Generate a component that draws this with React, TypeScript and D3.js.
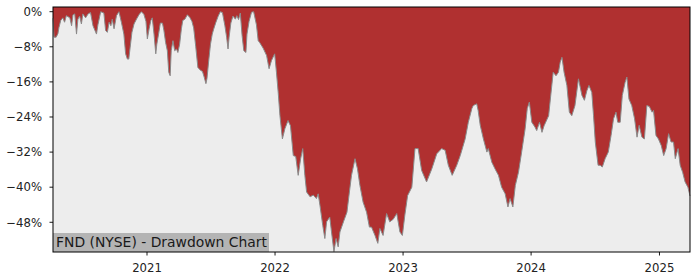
import React from "react";
import * as d3 from "d3";

const dates: string[] = [
  "2020-04-08","2020-04-11","2020-04-17","2020-04-22","2020-04-25","2020-04-30","2020-05-06","2020-05-11","2020-05-16","2020-05-26",
  "2020-05-31","2020-06-04","2020-06-09","2020-06-14","2020-06-18","2020-06-23","2020-06-28","2020-07-02","2020-07-10","2020-07-17",
  "2020-07-24","2020-07-31","2020-08-10","2020-08-14","2020-08-22","2020-08-31","2020-09-05","2020-09-10","2020-09-15","2020-09-20",
  "2020-09-24","2020-09-29","2020-10-06","2020-10-13","2020-10-20","2020-10-27","2020-11-01","2020-11-06","2020-11-10","2020-11-14",
  "2020-11-19","2020-11-25","2020-12-02","2020-12-09","2020-12-16","2020-12-23","2020-12-29","2021-01-02","2021-01-07","2021-01-12",
  "2021-01-16","2021-01-21","2021-01-26","2021-01-29","2021-02-03","2021-02-08","2021-02-14","2021-02-18","2021-02-23","2021-02-28",
  "2021-03-04","2021-03-08","2021-03-11","2021-03-16","2021-03-21","2021-03-26","2021-03-30","2021-04-04","2021-04-09","2021-04-13",
  "2021-04-19","2021-04-26","2021-05-03","2021-05-09","2021-05-14","2021-05-20","2021-05-26","2021-06-03","2021-06-08","2021-06-13",
  "2021-06-18","2021-06-21","2021-06-26","2021-07-01","2021-07-06","2021-07-10","2021-07-16","2021-07-23","2021-07-29","2021-08-04",
  "2021-08-11","2021-08-16","2021-08-20","2021-08-23","2021-08-28","2021-09-03","2021-09-10","2021-09-14","2021-09-19","2021-09-24",
  "2021-09-29","2021-10-04","2021-10-10","2021-10-13","2021-10-19","2021-10-26","2021-11-01","2021-11-09","2021-11-14","2021-11-18",
  "2021-11-28","2021-12-08","2021-12-15","2021-12-22","2021-12-31","2022-01-05","2022-01-10","2022-01-15","2022-01-22","2022-01-29",
  "2022-02-07","2022-02-14","2022-02-22","2022-03-01","2022-03-08","2022-03-15","2022-03-21","2022-03-27","2022-04-01","2022-04-11",
  "2022-04-20","2022-04-29","2022-05-04","2022-05-09","2022-05-17","2022-05-23","2022-05-28","2022-06-06","2022-06-11","2022-06-18",
  "2022-06-24","2022-06-30","2022-07-05","2022-07-15","2022-07-25","2022-08-01","2022-08-07","2022-08-17","2022-08-24","2022-08-31",
  "2022-09-09","2022-09-19","2022-09-27","2022-10-03","2022-10-13","2022-10-21","2022-10-27","2022-11-05","2022-11-15","2022-11-24",
  "2022-12-04","2022-12-14","2022-12-23","2022-12-30","2023-01-06","2023-01-14","2023-01-26","2023-02-04","2023-02-13","2023-02-23",
  "2023-03-09","2023-03-24","2023-04-07","2023-04-21","2023-05-01","2023-05-10","2023-05-21","2023-06-03","2023-06-13","2023-06-27",
  "2023-07-06","2023-07-16","2023-07-20","2023-07-30","2023-08-03","2023-08-09","2023-08-18","2023-08-28","2023-09-01","2023-09-11",
  "2023-09-20","2023-09-30","2023-10-09","2023-10-19","2023-10-27","2023-11-02","2023-11-10","2023-11-17","2023-11-26","2023-12-05",
  "2023-12-15","2023-12-21","2023-12-27","2024-01-03","2024-01-12","2024-01-17","2024-01-25","2024-02-01","2024-02-07","2024-02-20",
  "2024-02-26","2024-03-04","2024-03-12","2024-03-19","2024-03-24","2024-03-29","2024-04-04","2024-04-12","2024-04-19","2024-04-26",
  "2024-05-05","2024-05-15","2024-05-25","2024-06-01","2024-06-08","2024-06-14","2024-06-22","2024-06-27","2024-07-02","2024-07-10",
  "2024-07-16","2024-07-22","2024-07-30","2024-08-08","2024-08-16","2024-08-23","2024-08-30","2024-09-04","2024-09-11","2024-09-17",
  "2024-09-25","2024-09-30","2024-10-06","2024-10-14","2024-10-22","2024-10-29","2024-11-04","2024-11-12","2024-11-19","2024-11-26",
  "2024-12-03","2024-12-11","2024-12-15","2024-12-22","2024-12-29","2025-01-06","2025-01-13","2025-01-20","2025-01-27","2025-02-03",
  "2025-02-10","2025-02-15","2025-02-23","2025-03-01","2025-03-08","2025-03-15","2025-03-23","2025-03-29"
];

const drawdown: number[] = [
  -1.5,-5.8,-5.8,-5.0,-3.6,-2.0,-1.4,-2.4,-0.9,-1.4,
  -3.2,-0.7,-0.5,-5.1,-1.7,-1.0,-2.8,-0.5,-1.4,-0.5,
  -0.2,-3.2,-5.1,-3.0,0,-0.3,-4.3,-4.7,-2.4,-3.2,
  -1.7,-3.9,-0.9,0,-2.4,-5.1,-9.6,-10.8,-10.8,-8.1,
  -4.7,-2.8,-1.7,-0.7,0,-0.6,-2.2,-6.2,-3.9,-2.0,
  -1.4,-5.1,-9.6,-7.4,-5.1,-2.6,-2.6,-4.2,-7.0,-8.9,
  -13.8,-14.6,-8.9,-6.6,-8.9,-8.5,-9.3,-7.4,-3.9,-2.0,
  -1.7,-0.7,-1.3,-2.2,-3.7,-8.0,-12.7,-13.4,-13.6,-14.9,
  -16.4,-15.2,-11.1,-7.4,-5.1,-4.0,-2.5,-1.0,0,-0.2,
  -3.2,-5.8,-8.5,-5.8,-2.6,-1.0,-1.7,-0.9,-1.8,-0.3,
  -5.4,-8.9,-9.3,-5.1,-2.2,-0.1,0,-3.0,-6.6,-7.0,
  -8.3,-10,-13,-11.1,-9.6,-13.8,-18.4,-23.7,-29,-26.7,
  -24.8,-26,-32.8,-33,-37.3,-33.5,-31.2,-37.3,-41.1,-42.2,
  -41.8,-42.6,-41.5,-44.1,-48.7,-51.7,-47.9,-46.8,-50.2,-54.7,
  -51.7,-53.6,-50.2,-47.9,-45.7,-41.1,-37.3,-33.5,-35.8,-39.6,
  -43.4,-45.7,-49.1,-49.1,-51,-52.8,-49.4,-51,-46,-47.9,
  -47.3,-46,-50.2,-51,-46.4,-41.9,-40,-31.2,-31.2,-36.2,
  -38.8,-35.8,-32.4,-31.2,-31.6,-35,-37.3,-35,-32.8,-29,
  -25.2,-22.1,-21.4,-21,-22.5,-25.9,-29,-32,-31.2,-34.3,
  -35.8,-37.3,-40,-41.5,-44.5,-42.6,-44.5,-39.6,-36.6,-32,
  -26.7,-22.1,-20.6,-25.2,-26.3,-27.1,-25.2,-27.5,-26,-23.7,
  -19.1,-13.8,-14.6,-13.8,-11.5,-10.4,-13.8,-16.8,-22.9,-23.7,
  -21.4,-15.3,-19.1,-20.2,-18,-16.8,-18.4,-23.7,-29.7,-35,
  -35,-35.4,-33.5,-32,-28.2,-24.4,-22.9,-25.2,-25.2,-19.1,
  -16.1,-14.9,-19.9,-21.4,-24.4,-28.6,-25.9,-28.6,-29,-21.4,
  -21.6,-22.9,-22.5,-28.2,-29,-30.5,-32.8,-31.2,-27.8,-29.7,
  -29.7,-33.5,-31.2,-35,-36.6,-38.8,-40,-42.0
];

const yTicks: number[] = [0, -8, -16, -24, -32, -40, -48];
const xTickLabels: string[] = ["2021", "2022", "2023", "2024", "2025"];
const title = "FND (NYSE) - Drawdown Chart";

const W = 700, H = 280;
const M = { left: 53, right: 690, top: 7, bottom: 252 };
const FONT = "'DejaVu Sans', sans-serif";

export default function App() {
  const parse = d3.timeParse("%Y-%m-%d");
  const data = dates.map((d, i) => ({ date: parse(d) as Date, v: drawdown[i] }));
  const x = d3.scaleTime()
    .domain(d3.extent(data, (d) => d.date) as [Date, Date])
    .range([M.left, M.right]);
  const y = d3.scaleLinear().domain([-54.77, 1.07]).range([M.bottom, M.top]);

  const below = d3.area<{ date: Date; v: number }>()
    .x((d) => x(d.date))
    .y0(M.bottom)
    .y1((d) => y(d.v));
  const line = d3.line<{ date: Date; v: number }>()
    .x((d) => x(d.date))
    .y((d) => y(d.v));

  const xTicks = xTickLabels.map((s) => ({ label: s, x: x(parse(s + "-01-01") as Date) }));

  return (
    <svg width={W} height={H} style={{ position: "absolute", left: 0, top: 0, background: "#fff" }}
      fontFamily={FONT}>
      <rect x={M.left} y={M.top} width={M.right - M.left} height={M.bottom - M.top} fill="#b03030" />
      <path d={below(data) || ""} fill="#ededed" />
      <path d={line(data) || ""} fill="none" stroke="#8a8a8a" strokeWidth={1} />
      {/* label box */}
      <rect x={M.left} y={233} width={216} height={M.bottom - 233} fill="#b4b4b4" />
      <text x={56} y={247.3} fontSize={13.9} fill="#1a1a1a">{title}</text>
      {/* spines */}
      <rect x={M.left} y={M.top} width={M.right - M.left} height={M.bottom - M.top}
        fill="none" stroke="#000" strokeWidth={1} />
      {yTicks.map((t) => (
        <g key={t}>
          <line x1={M.left - 3.5} x2={M.left} y1={y(t)} y2={y(t)} stroke="#000" strokeWidth={0.9} />
          <text x={42} y={y(t)} dy="0.36em" textAnchor="end" fontSize={11.7} fill="#222">
            {(t < 0 ? "\u2212" + Math.abs(t) : String(t)) + "%"}
          </text>
        </g>
      ))}
      {xTicks.map((t) => (
        <g key={t.label}>
          <line x1={t.x} x2={t.x} y1={M.bottom} y2={M.bottom + 3.5} stroke="#000" strokeWidth={0.9} />
          <text x={t.x} y={271.5} textAnchor="middle" fontSize={11.7} fill="#222">{t.label}</text>
        </g>
      ))}
    </svg>
  );
}
